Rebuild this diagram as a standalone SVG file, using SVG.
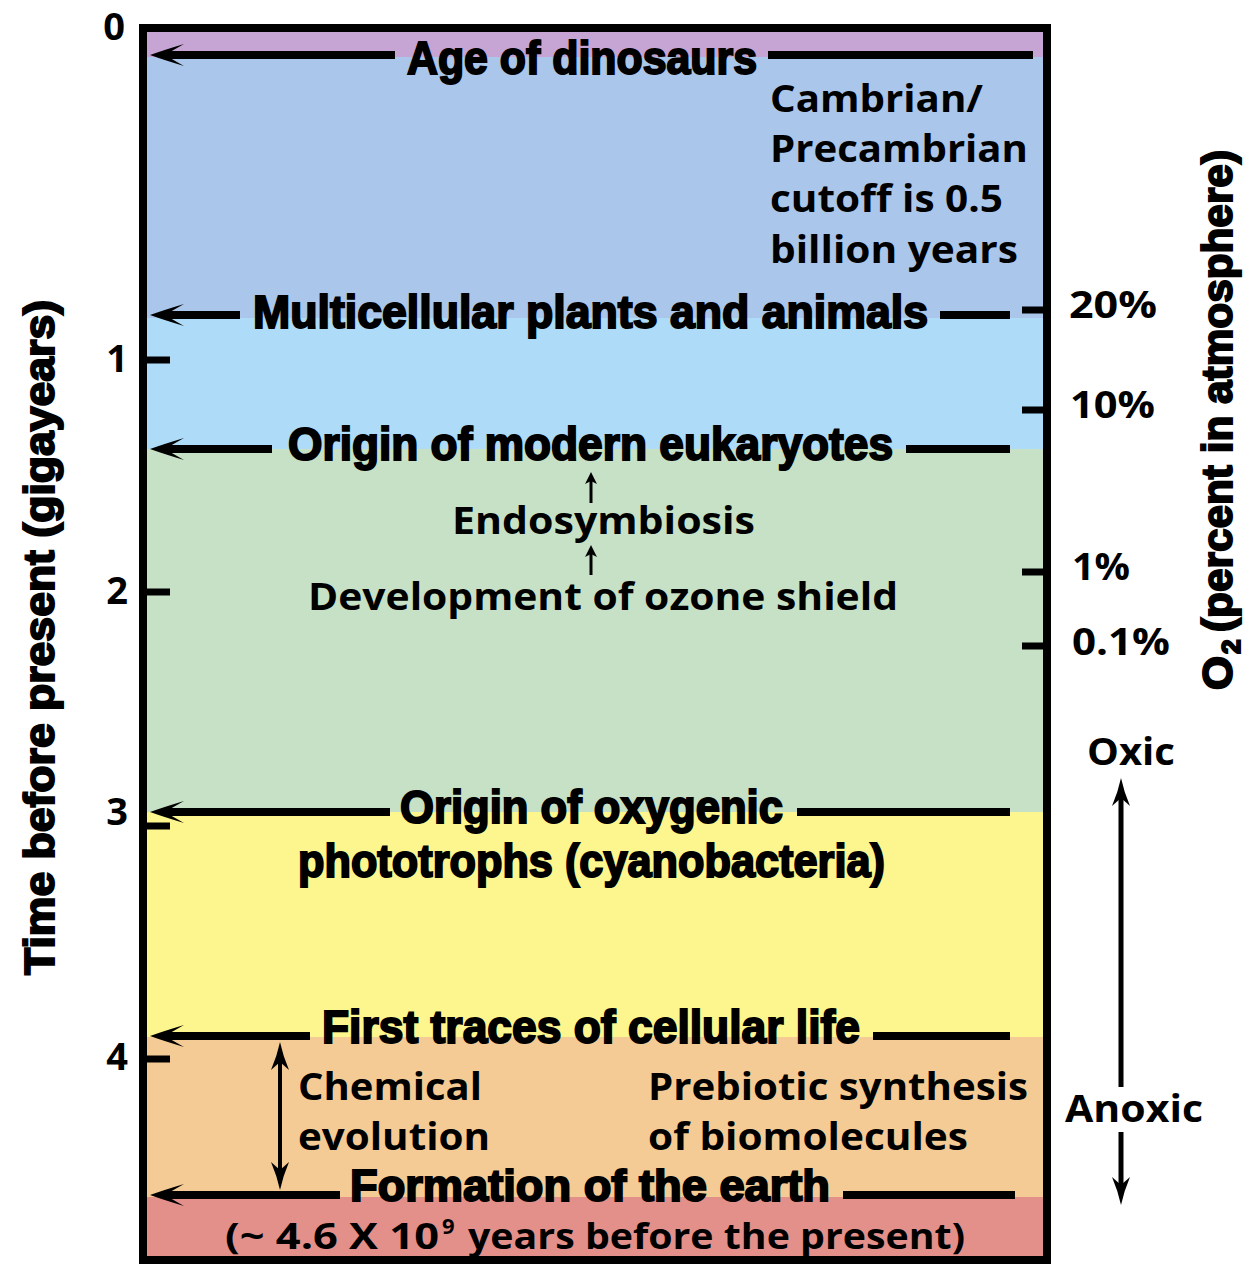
<svg xmlns="http://www.w3.org/2000/svg" width="1245" height="1267" viewBox="0 0 1245 1267">
<style>
.h{font-family:"Liberation Sans",Arial,sans-serif;font-weight:900;font-size:46px;fill:#000;stroke:#000;stroke-width:2px}
.r{font-family:"Open Sans","Noto Sans",sans-serif;font-weight:700;font-size:38px;fill:#000}
.ax{font-family:"Open Sans","Noto Sans",sans-serif;font-weight:700;font-size:38px;fill:#000}
.ln{stroke:#000;stroke-width:8;fill:none}
.tk{stroke:#000;stroke-width:7;fill:none}
.th{stroke:#000;stroke-width:4;fill:none}
</style>
<defs>
<path id="ah" d="M0,0 Q14,-5 34,-11 L20,-3 L20,3 L34,11 Q14,5 0,0 Z" fill="#000"/>
<path id="ahs" d="M0,0 L6,12 L0,9 L-6,12 Z" fill="#000"/>
<path id="ahv" d="M0,0 Q3,14 9,28 L0,20 L-9,28 Q-3,14 0,0 Z" fill="#000"/>
</defs>
<rect width="1245" height="1267" fill="#fff"/>
<g id="bands">
<rect x="147" y="32" width="896" height="25" fill="#c6a5d4"/>
<rect x="147" y="57" width="896" height="261" fill="#aac6eb"/>
<rect x="147" y="318" width="896" height="131" fill="#addbf8"/>
<rect x="147" y="449" width="896" height="363" fill="#c6e1c6"/>
<rect x="147" y="812" width="896" height="225" fill="#fdf58e"/>
<rect x="147" y="1037" width="896" height="160" fill="#f5cb95"/>
<rect x="147" y="1197" width="896" height="63" fill="#e3908a"/>
<rect x="143" y="28" width="904" height="1232" fill="none" stroke="#000" stroke-width="8"/>
</g>
<g id="axes">
<line class="tk" x1="147" y1="360" x2="170" y2="360"/>
<line class="tk" x1="147" y1="592" x2="170" y2="592"/>
<line class="tk" x1="147" y1="826" x2="170" y2="826"/>
<line class="tk" x1="147" y1="1059" x2="170" y2="1059"/>
<line class="tk" x1="1022" y1="310" x2="1043" y2="310"/>
<line class="tk" x1="1022" y1="410" x2="1043" y2="410"/>
<line class="tk" x1="1022" y1="572" x2="1043" y2="572"/>
<line class="tk" x1="1022" y1="646" x2="1043" y2="646"/>
<text class="ax" x="114" y="40" text-anchor="middle">0</text>
<text class="ax" x="117" y="372" text-anchor="middle">1</text>
<text class="ax" x="117" y="604" text-anchor="middle">2</text>
<text class="ax" x="117" y="825" text-anchor="middle">3</text>
<text class="ax" x="117" y="1070" text-anchor="middle">4</text>
<text class="r" x="1069" y="318" textLength="88" lengthAdjust="spacingAndGlyphs">20%</text>
<text class="r" x="1070" y="418" textLength="85" lengthAdjust="spacingAndGlyphs">10%</text>
<text class="r" x="1072" y="580" textLength="58" lengthAdjust="spacingAndGlyphs">1%</text>
<text class="r" x="1072" y="655" textLength="98" lengthAdjust="spacingAndGlyphs">0.1%</text>
<g transform="translate(54,975) rotate(-90)">
<text class="h" x="0" y="0" style="font-size:43px" textLength="675" lengthAdjust="spacingAndGlyphs">Time before present (gigayears)</text>
</g>
<g transform="translate(1232,690) rotate(-90)">
<text class="h" x="0" y="0" style="font-size:43px" textLength="34" lengthAdjust="spacingAndGlyphs">O</text>
<text class="h" x="36" y="8" style="font-size:26px">2</text>
<text class="h" x="58" y="0" style="font-size:43px" textLength="482" lengthAdjust="spacingAndGlyphs">(percent in atmosphere)</text>
</g>
</g>
<g id="connectors">
<line class="ln" x1="166" y1="55" x2="395" y2="55"/>
<use href="#ah" x="150" y="55"/>
<line class="ln" x1="768" y1="55" x2="1033" y2="55"/>
<line class="ln" x1="166" y1="315" x2="240" y2="315"/>
<use href="#ah" x="150" y="315"/>
<line class="ln" x1="940" y1="315" x2="1010" y2="315"/>
<line class="ln" x1="166" y1="449" x2="272" y2="449"/>
<use href="#ah" x="150" y="449"/>
<line class="ln" x1="906" y1="449" x2="1010" y2="449"/>
<line class="ln" x1="166" y1="812" x2="390" y2="812"/>
<use href="#ah" x="150" y="812"/>
<line class="ln" x1="797" y1="812" x2="1010" y2="812"/>
<line class="ln" x1="166" y1="1036" x2="310" y2="1036"/>
<use href="#ah" x="150" y="1036"/>
<line class="ln" x1="873" y1="1036" x2="1010" y2="1036"/>
<line class="ln" x1="166" y1="1195" x2="340" y2="1195"/>
<use href="#ah" x="150" y="1195"/>
<line class="ln" x1="843" y1="1195" x2="1015" y2="1195"/>
<line stroke="#000" stroke-width="3" x1="591" y1="480" x2="591" y2="503"/>
<use href="#ahs" x="591" y="472"/>
<line stroke="#000" stroke-width="3" x1="591" y1="553" x2="591" y2="575"/>
<use href="#ahs" x="591" y="545"/>
<line class="th" x1="280" y1="1060" x2="280" y2="1172"/>
<use href="#ahv" x="280" y="1042"/>
<use href="#ahv" transform="translate(280,1190) scale(1,-1)"/>
<line stroke="#000" stroke-width="5" x1="1121" y1="798" x2="1121" y2="1087"/>
<use href="#ahv" x="1121" y="778"/>
<line stroke="#000" stroke-width="5" x1="1121" y1="1132" x2="1121" y2="1188"/>
<use href="#ahv" transform="translate(1121,1205) scale(1,-1)"/>
</g>
<g id="n-dinosaurs"><text class="h" x="407" y="74" textLength="350" lengthAdjust="spacingAndGlyphs">Age of dinosaurs</text></g>
<g id="n-cambrian">
<text class="r" x="770" y="112" textLength="213" lengthAdjust="spacingAndGlyphs">Cambrian/</text>
<text class="r" x="770" y="162" textLength="258" lengthAdjust="spacingAndGlyphs">Precambrian</text>
<text class="r" x="770" y="212" textLength="233" lengthAdjust="spacingAndGlyphs">cutoff is 0.5</text>
<text class="r" x="770" y="263" textLength="248" lengthAdjust="spacingAndGlyphs">billion years</text>
</g>
<g id="n-multicellular"><text class="h" x="253" y="328" textLength="675" lengthAdjust="spacingAndGlyphs">Multicellular plants and animals</text></g>
<g id="n-eukaryotes"><text class="h" x="288" y="460" textLength="605" lengthAdjust="spacingAndGlyphs">Origin of modern eukaryotes</text></g>
<g id="n-endosymbiosis"><text class="r" x="452" y="534" textLength="303" lengthAdjust="spacingAndGlyphs">Endosymbiosis</text></g>
<g id="n-ozone"><text class="r" x="308" y="610" textLength="590" lengthAdjust="spacingAndGlyphs">Development of ozone shield</text></g>
<g id="n-oxygenic">
<text class="h" x="400" y="823" textLength="383" lengthAdjust="spacingAndGlyphs">Origin of oxygenic</text>
<text class="h" x="298" y="877" textLength="587" lengthAdjust="spacingAndGlyphs">phototrophs (cyanobacteria)</text>
</g>
<g id="n-firsttraces"><text class="h" x="322" y="1043" textLength="538" lengthAdjust="spacingAndGlyphs">First traces of cellular life</text></g>
<g id="n-chemical">
<text class="r" x="298" y="1100" textLength="184" lengthAdjust="spacingAndGlyphs">Chemical</text>
<text class="r" x="298" y="1150" textLength="192" lengthAdjust="spacingAndGlyphs">evolution</text>
</g>
<g id="n-prebiotic">
<text class="r" x="648" y="1100" textLength="380" lengthAdjust="spacingAndGlyphs">Prebiotic synthesis</text>
<text class="r" x="648" y="1150" textLength="320" lengthAdjust="spacingAndGlyphs">of biomolecules</text>
</g>
<g id="n-formation">
<text class="h" x="350" y="1201" style="font-size:44px" textLength="480" lengthAdjust="spacingAndGlyphs">Formation of the earth</text>
<text class="r" x="225" y="1249" style="font-size:36px" textLength="214" lengthAdjust="spacingAndGlyphs">(~ 4.6 X 10</text>
<text class="r" x="442" y="1234" style="font-size:22px">9</text>
<text class="r" x="468" y="1249" style="font-size:36px" textLength="497" lengthAdjust="spacingAndGlyphs">years before the present)</text>
</g>
<g id="n-oxic">
<text class="r" x="1087" y="765" textLength="88" lengthAdjust="spacingAndGlyphs">Oxic</text>
<text class="r" x="1065" y="1122" textLength="138" lengthAdjust="spacingAndGlyphs">Anoxic</text>
</g>
</svg>
